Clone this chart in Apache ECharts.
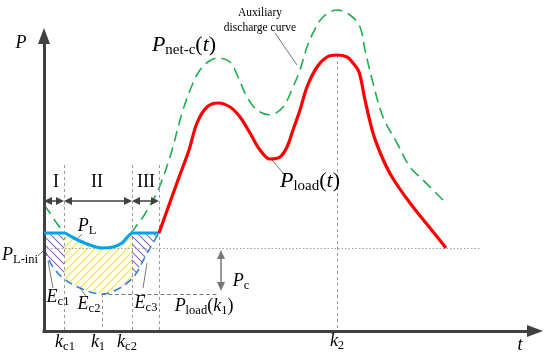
<!DOCTYPE html>
<html><head><meta charset="utf-8">
<script src="https://cdn.jsdelivr.net/npm/echarts@6/dist/echarts.min.js"></script>
<style>html,body{margin:0;padding:0;background:#fff}#c{width:550px;height:359px}</style>
</head><body><div id="c"></div>
<script>
// ---------- data (t, P) in schematic units ----------
const loadCurve = [[115,98],[134,151],[145,181],[153,208],[163,224],[174,228],[186,224],[196,214],[206,198],[216,181],[226,172],[236,174],[243,184],[249,201],[256,221],[263,244],[273,264],[283,274],[293,276],[303,274],[309,268],[315,259],[321,231],[329,198],[338,174],[348,154],[366,128],[386,103],[402,83]];
const netStart = [[0,126],[6,118],[14,106],[20,99]];
const netMain = [[87,98],[93,106],[99,114],[109,131],[115,143],[126,174],[139,221],[149,248],[156,261],[164,269],[174,273],[186,269],[194,254],[203,234],[213,221],[226,216],[239,224],[249,244],[256,261],[263,284],[269,298],[279,314],[293,321],[306,316],[316,304],[321,281],[329,248],[339,214],[353,188],[366,164],[379,151],[402,128]];
const plCurve = [[0,98],[20,98],[28,94],[36,90],[46,86],[58,83],[69,84],[78,88],[89,98],[115,98]];
const loadValley = [[0,83],[4,73],[9,64],[19,53],[36,43],[58,37],[76,43],[91,56],[101,74],[109,88],[115,98]];
const regionBounds = [0,20,88,115];
const regionNames = ['I','II','III'];
const tickTimes = [20,58,88,293];
const tickNames = ['{i|k}{s|c1}','{i|k}{s|1}','{i|k}{s|c2}','{i|k}{s|2}'];
const pcTop = 81, pcBottom = 40;

// ---------- derived levels ----------
const plIni = loadValley[0][1];
const loadK1 = Math.min(...loadValley.map(p=>p[1]));
const k1 = loadValley.find(p=>p[1]===loadK1)[0];
const k2Peak = Math.max(...loadCurve.map(p=>p[1]));
const k2 = loadCurve.find(p=>p[1]===k2Peak)[0];

// ---------- layout / styling ----------
const SERIF = 'Liberation Serif';
const xTip = 499, yTip = 303, guideTop = 166, regionArrowP = 130, regionLabelP = 149;
const annotations = [
  {t:-23,P:286,text:'{i|P}'},
  {t:476,P:-16,text:'{i|t}'},
  {t:21,P:-13,text:tickNames[0]},
  {t:54,P:-13,text:tickNames[1]},
  {t:83,P:-13,text:tickNames[2]},
  {t:293,P:-12,text:tickNames[3]},
  {t:43,P:103,text:'{i|P}{s|L}'},
  {t:-24,P:74,text:'{i|P}{s|L-ini}'},
  {t:14,P:32,text:'{i|E}{s|c1}'},
  {t:45,P:25,text:'{i|E}{s|c2}'},
  {t:102,P:26,text:'{i|E}{s|c3}'},
  {t:160,P:23,text:'{i|P}{s|load}{n|(}{i|k}{s|1}{n|)}'},
  {t:197,P:48,text:'{i|P}{s|c}'},
  {t:266,P:148,text:'{I|P}{S|load}{N|(}{I|t}{N|)}'},
  {t:140,P:284,text:'{I|P}{S|net-c}{N|(}{I|t}{N|)}'},
  {t:216,P:311,text:'{a|Auxiliary}\n{a|discharge curve}'},
  {t:12,P:regionLabelP,text:'{r|I}'},
  {t:53,P:regionLabelP,text:'{r|II}'},
  {t:102,P:regionLabelP,text:'{r|III}'}
];
const rich = {
  i:{fontFamily:SERIF,fontStyle:'italic',fontSize:18,lineHeight:18,color:'#111',verticalAlign:'bottom',padding:[0,0,2,0]},
  n:{fontFamily:SERIF,fontSize:18,lineHeight:18,color:'#111',verticalAlign:'bottom',padding:[0,0,2,0]},
  s:{fontFamily:SERIF,fontSize:12.5,lineHeight:13,color:'#111',verticalAlign:'bottom'},
  I:{fontFamily:SERIF,fontStyle:'italic',fontSize:22,lineHeight:22,color:'#111',verticalAlign:'bottom',padding:[0,0,2,0]},
  N:{fontFamily:SERIF,fontSize:22,lineHeight:22,color:'#111',verticalAlign:'bottom',padding:[0,0,2,0]},
  S:{fontFamily:SERIF,fontSize:15,lineHeight:15,color:'#111',verticalAlign:'bottom'},
  a:{fontFamily:SERIF,fontSize:11.5,lineHeight:15,color:'#222',align:'center'},
  r:{fontFamily:SERIF,fontSize:18,lineHeight:18,color:'#1a1a1a'}
};

function hatch(color, dir, step, lw){
  const c=document.createElement('canvas'); c.width=c.height=step;
  const g=c.getContext('2d'); g.strokeStyle=color; g.lineWidth=lw; g.beginPath();
  if(dir==='/'){ g.moveTo(-1,step+1); g.lineTo(step+1,-1); g.moveTo(-1,1); g.lineTo(1,-1); g.moveTo(step-1,step+1); g.lineTo(step+1,step-1); }
  else { g.moveTo(-1,-1); g.lineTo(step+1,step+1); g.moveTo(step-1,-1); g.lineTo(step+1,1); g.moveTo(-1,step-1); g.lineTo(1,step+1); }
  g.stroke(); return c;
}
const fills = [
  {image:hatch('#8a63c9','\\',8,1.1),repeat:'repeat'},
  {image:hatch('#f2ee1a','/',8,1.2),repeat:'repeat'},
  {image:hatch('#8a63c9','\\',8,1.1),repeat:'repeat'}
];

function slice(curve,t0,t1){
  const out=[];
  const at=(t)=>{for(let i=0;i<curve.length-1;i++){const a=curve[i],b=curve[i+1]; if(t>=a[0]&&t<=b[0]){const f=(t-a[0])/(b[0]-a[0]||1); return [t,a[1]+f*(b[1]-a[1])];}} return curve[curve.length-1];};
  out.push(at(t0));
  curve.forEach(p=>{ if(p[0]>t0&&p[0]<t1) out.push(p); });
  out.push(at(t1));
  return out;
}

// guide lines via markLine
const gray='#9a9a9a';
function seg(a,b,style,s0,s1,size){
  return [{coord:a,symbol:s0||'none',symbolSize:size||[8,8],lineStyle:style},{coord:b,symbol:s1||'none',symbolSize:size||[8,8]}];
}
const dashV={color:gray,type:[3,3],width:1};
const leader={color:'#555',type:'solid',width:0.8};
const arrowStyle={color:'#404040',type:'solid',width:1.5};
const guides = [];
[regionBounds[1],regionBounds[2],regionBounds[3]].forEach(t=>guides.push(seg([t,guideTop],[t,0],dashV)));
guides.push(seg([k1,loadK1],[k1,0],dashV));
guides.push(seg([k2,k2Peak],[k2,0],dashV));
guides.push(seg([0,plIni],[436,plIni],{color:'#a0a0a0',type:[1.5,2],width:1}));
guides.push(seg([k1,loadK1],[174,loadK1],{color:'#777',type:[4,2.5],width:1}));
for(let r=0;r<3;r++){
  guides.push(seg([regionBounds[r]+4,regionArrowP],[regionBounds[r+1]-4,regionArrowP],arrowStyle,'triangle','triangle',[8,8]));
}
guides.push(seg([177,pcTop-4.5],[177,pcBottom+4.5],{color:'#777',type:'solid',width:1.5},'triangle','triangle',[8,9]));
// leaders
guides.push(seg([231,298],[253,266],leader));
guides.push(seg([228,171],[239,158],leader));
guides.push(seg([32,91],[38,97],leader));
guides.push(seg([-6,75],[0,81],leader));
guides.push(seg([9,43],[4,70],leader));
guides.push(seg([42,35],[36,43],leader));
guides.push(seg([99,43],[103,68],leader));
// axes
const axisStyle={color:'#404040',type:'solid',width:3};
guides.push(seg([0,-1.5],[0,yTip-8],axisStyle,'none','triangle',[12,16]));
guides.push(seg([-1.5,0],[xTip-8,0],axisStyle,'none','triangle',[12,16]));

const chart = echarts.init(document.getElementById('c'));
chart.setOption({
  animation:false,
  backgroundColor:'#fff',
  grid:{left:0,right:0,top:0,bottom:0},
  xAxis:{type:'value',min:-44,max:506,show:false},
  yAxis:{type:'value',min:-28,max:331,show:false},
  series:[
    {type:'custom',name:'hatch',clip:false,z:1,
     data:regionNames.map((n,i)=>[(regionBounds[i]+regionBounds[i+1])/2,60,i]),
     renderItem:(params,api)=>{
       const i=api.value(2), t0=regionBounds[i], t1=regionBounds[i+1];
       const top=slice(plCurve,t0,t1), bot=slice(loadValley,t0,t1).reverse();
       const pts=top.concat(bot).map(p=>api.coord(p));
       return {type:'polygon',shape:{points:pts},style:{fill:fills[i],stroke:null}};
     }},
    {type:'line',name:'guides',data:[[0,0]],symbol:'none',lineStyle:{width:0},z:2,
     markLine:{silent:true,animation:false,label:{show:false},emphasis:{disabled:true},symbol:['none','none'],data:guides}},
    {type:'line',name:'Pnet-c start',data:netStart,smooth:0.3,symbol:'none',clip:false,z:3,
     lineStyle:{color:'#1fae4f',width:1.6,type:[11,6]}},
    {type:'line',name:'Pnet-c',data:netMain,smooth:0.35,symbol:'none',clip:false,z:3,
     lineStyle:{color:'#1fae4f',width:1.6,type:[11,6]}},
    {type:'line',name:'Pload valley',data:loadValley,smooth:0.35,symbol:'none',z:4,
     lineStyle:{color:'#2f7fd6',width:1.6,type:[8,5]}},
    {type:'line',name:'PL',data:plCurve,smooth:0.3,symbol:'none',z:5,
     lineStyle:{color:'#00a3e8',width:3.2}},
    {type:'line',name:'Pload',data:loadCurve,smooth:0.35,symbol:'none',z:6,
     lineStyle:{color:'#ff0000',width:3.2}},
    {type:'custom',name:'labels',clip:false,z:10,
     data:annotations.map((a,i)=>[a.t,a.P,i]),
     renderItem:(params,api)=>{
       const a=annotations[api.value(2)]; const p=api.coord([a.t,a.P]);
       return {type:'text',x:p[0],y:p[1],style:{text:a.text,rich:rich,align:'center',verticalAlign:'middle'}};
     }}
  ]
});
</script></body></html>
